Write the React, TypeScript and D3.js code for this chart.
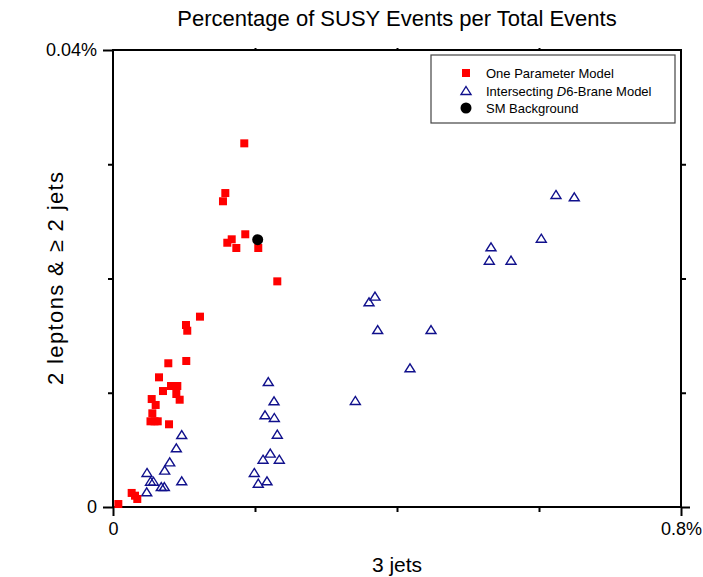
import React, { useRef, useEffect } from 'react';
import { select, scaleLinear, axisLeft, axisBottom, axisRight, axisTop } from 'd3';

// x = 3 jets (%), y = 2 leptons & >= 2 jets (%)
const oneParamX = [0.1849, 0.1582, 0.1549, 0.1863, 0.1672, 0.1610, 0.1737, 0.2046, 0.2314, 0.1225,
  0.1028, 0.1046, 0.1032, 0.0779, 0.0648, 0.0817, 0.0906, 0.0704, 0.0892, 0.0545,
  0.0939, 0.0601, 0.0554, 0.0528, 0.0585, 0.0630, 0.0789, 0.0263, 0.0310, 0.0342, 0.0075];
const oneParamY = [0.03183, 0.02748, 0.02676, 0.02387, 0.02343, 0.02313, 0.02267, 0.02267, 0.01975, 0.01666,
  0.01593, 0.01543, 0.01278, 0.01258, 0.01135, 0.01059, 0.01059, 0.01015, 0.00989, 0.00945,
  0.00939, 0.00893, 0.00820, 0.00750, 0.00750, 0.00750, 0.00724, 0.00123, 0.00099, 0.00070, 0.00026];

const braneX = [0.0968, 0.0892, 0.0799, 0.0479, 0.0728, 0.0528, 0.0570, 0.0968, 0.0680, 0.0723, 0.0475,
  0.2187, 0.2268, 0.2141, 0.2272, 0.2314, 0.2215, 0.2113, 0.2342, 0.1990, 0.2169, 0.2046,
  0.6239, 0.6497, 0.6032, 0.5324, 0.5300, 0.5606, 0.3690, 0.3606, 0.3728, 0.4479, 0.4183, 0.3413];
const braneY = [0.00630, 0.00514, 0.00391, 0.00298, 0.00318, 0.00221, 0.00221, 0.00225, 0.00175, 0.00175, 0.00129,
  0.01094, 0.00925, 0.00803, 0.00779, 0.00633, 0.00467, 0.00414, 0.00414, 0.00298, 0.00225, 0.00204,
  0.02731, 0.02711, 0.02348, 0.02273, 0.02156, 0.02156, 0.01841, 0.01792, 0.01549, 0.01549, 0.01214, 0.00928];

const smX = [0.2038];
const smY = [0.0234];

const xMajor = [0, 0.8];
const xMinor = [0.2, 0.4, 0.6];
const yMajor = [0, 0.04];
const yMinor = [0.01, 0.02, 0.03];

const legendLabels = ['One Parameter Model', 'Intersecting D6-Brane Model', 'SM Background'];

const font = 'Arial, "Liberation Sans", sans-serif';

const App = () => {
  const svgRef = useRef<SVGSVGElement>(null);

  const margin = { left: 113, right: 22, top: 50, bottom: 70 };
  const width = 703, height = 577;

  const x = scaleLinear().domain([0, 0.8]).range([margin.left, width - margin.right]);
  const y = scaleLinear().domain([0, 0.04]).range([height - margin.bottom, margin.top]);

  const fmt = (v: number) => (v === 0 ? '0' : `${v}%`);

  useEffect(() => {
    const svg = select(svgRef.current);
    const [x0, x1] = x.range();
    const [y0, y1] = y.range();

    // major ticks with labels
    svg.select('.x-major')
      .attr('transform', `translate(0,${y0})`)
      .call(axisBottom(x).tickValues(xMajor).tickSize(9).tickPadding(6).tickFormat(fmt as any));
    svg.select('.y-major')
      .attr('transform', `translate(${x0},0)`)
      .call(axisLeft(y).tickValues(yMajor).tickSize(10).tickPadding(6).tickFormat(fmt as any));
    svg.select('.x-major-r')
      .attr('transform', `translate(${x1},0)`)
      .call(axisRight(y).tickValues([0]).tickSize(9).tickFormat(() => ''));

    // minor ticks
    svg.select('.x-minor')
      .attr('transform', `translate(0,${y0})`)
      .call(axisBottom(x).tickValues(xMinor).tickSize(5).tickFormat(() => ''));
    svg.select('.x-minor-top')
      .attr('transform', `translate(0,${y1})`)
      .call(axisTop(x).tickValues(xMinor).tickSize(2).tickFormat(() => ''));
    svg.select('.y-minor')
      .attr('transform', `translate(${x0},0)`)
      .call(axisLeft(y).tickValues(yMinor).tickSize(5).tickFormat(() => ''));
    svg.select('.y-minor-r')
      .attr('transform', `translate(${x1},0)`)
      .call(axisRight(y).tickValues(yMinor).tickSize(5).tickFormat(() => ''));

    svg.selectAll('.axis .domain').remove();
    svg.selectAll('.axis line').attr('stroke', '#000').attr('stroke-width', 2);
    svg.selectAll('.axis text')
      .attr('font-family', font)
      .attr('font-size', 18)
      .attr('fill', '#000');
  }, []);

  const [x0, x1] = x.range();
  const [y0, y1] = y.range();

  return (
    <svg ref={svgRef} width={width} height={height}
      style={{ position: 'absolute', left: 0, top: 0, background: '#fff' }}>
      <text x={(x0 + x1) / 2} y={26} textAnchor="middle" fontFamily={font} fontSize={22}>
        Percentage of SUSY Events per Total Events
      </text>

      <rect x={x0} y={y1} width={x1 - x0} height={y0 - y1} fill="none" stroke="#000" strokeWidth={2} />
      <g className="axis x-major" />
      <g className="axis y-major" />
      <g className="axis x-major-r" />
      <g className="axis x-minor" />
      <g className="axis x-minor-top" />
      <g className="axis y-minor" />
      <g className="axis y-minor-r" />

      {braneX.map((v, i) => {
        const cx = x(v), cy = y(braneY[i]);
        return (
          <path key={'b' + i}
            d={`M${cx},${cy - 4.5}L${cx + 5},${cy + 3.5}L${cx - 5},${cy + 3.5}Z`}
            fill="none" stroke="#10108c" strokeWidth={1.4} />
        );
      })}
      {oneParamX.map((v, i) => (
        <rect key={'r' + i} x={x(v) - 4} y={y(oneParamY[i]) - 4} width={8} height={8} fill="#ff0000" />
      ))}
      {smX.map((v, i) => (
        <circle key={'s' + i} cx={x(v)} cy={y(smY[i])} r={5.5} fill="#000" />
      ))}

      <g transform="translate(431,55)">
        <rect x={0} y={0} width={244} height={68} fill="#fff" stroke="#444" strokeWidth={1.2} />
        <rect x={31} y={14} width={8} height={8} fill="#ff0000" />
        <path d="M35,31.5L40,39.5L30,39.5Z" fill="none" stroke="#10108c" strokeWidth={1.4} />
        <circle cx={35} cy={53} r={5.5} fill="#000" />
        <text x={55} y={23} fontFamily={font} fontSize={13}>{legendLabels[0]}</text>
        <text x={55} y={40.5} fontFamily={font} fontSize={13}>
          Intersecting <tspan fontStyle="italic">D</tspan>6-Brane Model
        </text>
        <text x={55} y={58} fontFamily={font} fontSize={13}>{legendLabels[2]}</text>
      </g>

      <text x={(x0 + x1) / 2} y={572} textAnchor="middle" fontFamily={font} fontSize={21}>3 jets</text>
      <text transform={`translate(63,${(y0 + y1) / 2}) rotate(-90)`} textAnchor="middle"
        fontFamily={font} fontSize={22} textLength={213} lengthAdjust="spacing">2 leptons &amp; ≥ 2 jets</text>
    </svg>
  );
};

export default App;
